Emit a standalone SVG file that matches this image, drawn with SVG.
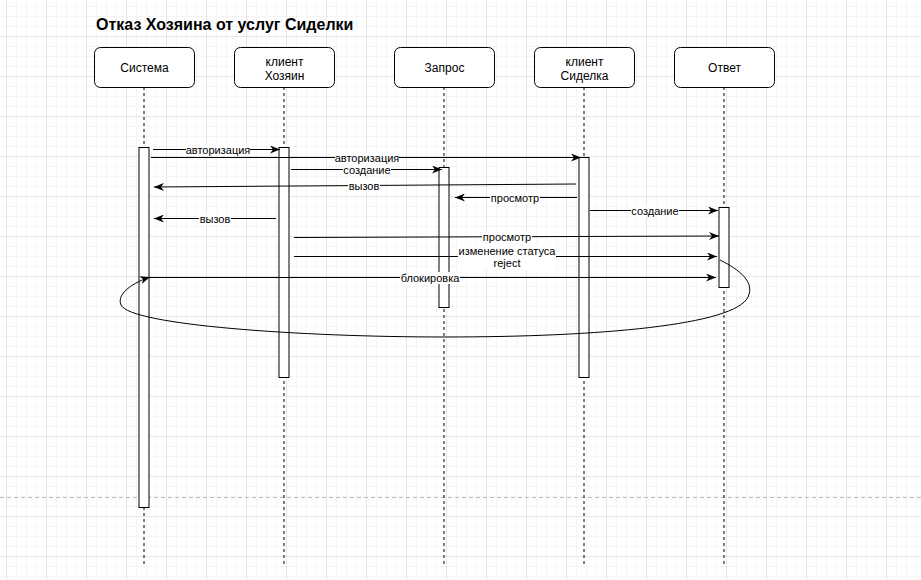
<svg xmlns="http://www.w3.org/2000/svg" width="921" height="580" viewBox="0 0 921 580">
  <defs>
    <pattern id="grid" width="40" height="40" x="6" y="36" patternUnits="userSpaceOnUse">
      <path d="M10.5 0 V40 M20.5 0 V40 M30.5 0 V40 M0 10.5 H40 M0 20.5 H40 M0 30.5 H40" stroke="#f5f5f5" stroke-width="1" fill="none"/>
      <path d="M0.5 0 V40 M0 0.5 H40" stroke="#e6e6e6" stroke-width="1" fill="none"/>
    </pattern>
    <marker id="arrow" markerUnits="userSpaceOnUse" markerWidth="10" markerHeight="8" refX="10" refY="4" orient="auto">
      <path d="M0,0 L10,4 L0,8 L3,4 Z" fill="#000"/>
    </marker>
    <style>
      .box { fill: #fff; stroke: #000; stroke-width: 1; }
      .life { stroke: #000; stroke-width: 1; stroke-dasharray: 3 3; fill: none; }
      .act { fill: #fff; stroke: #000; stroke-width: 1; }
      .hdr { font-family: "Liberation Sans", Arial, sans-serif; font-size: 12px; fill: #000; text-anchor: middle; }
      .msg { stroke: #000; stroke-width: 1; fill: none; marker-end: url(#arrow); }
      .lbl { font-family: "Liberation Sans", Arial, sans-serif; font-size: 11px; fill: #000; text-anchor: middle; }
      .bg { fill: #fff; }
      .title { font-family: "Liberation Sans", Arial, sans-serif; font-size: 16px; font-weight: bold; fill: #000; }
    </style>
  </defs>

  <rect x="0" y="0" width="921" height="580" fill="#fff"/>
  <rect x="0" y="0" width="921" height="580" fill="url(#grid)"/>
  <line x1="0" y1="497.5" x2="921" y2="497.5" stroke="#bdbdbd" stroke-width="1" stroke-dasharray="4 3"/>

  <text id="title" class="title" x="96" y="30">Отказ Хозяина от услуг Сиделки</text>

  <g id="sistema">
    <line class="life" x1="144" y1="87" x2="144" y2="564"/>
    <rect class="box" x="94.5" y="47.5" width="100" height="40" rx="6"/>
    <text class="hdr" x="144.5" y="72">Система</text>
    <rect class="act" x="139" y="147.5" width="10" height="360"/>
  </g>

  <g id="klient-hozyain">
    <line class="life" x1="284" y1="87" x2="284" y2="564"/>
    <rect class="box" x="234.5" y="47.5" width="100" height="40" rx="6"/>
    <text class="hdr" x="284.5" y="66">клиент</text>
    <text class="hdr" x="284.5" y="80">Хозяин</text>
    <rect class="act" x="279" y="147.5" width="10" height="230"/>
  </g>

  <g id="zapros">
    <line class="life" x1="444" y1="87" x2="444" y2="564"/>
    <rect class="box" x="394.5" y="47.5" width="100" height="40" rx="6"/>
    <text class="hdr" x="444.5" y="72">Запрос</text>
    <rect class="act" x="439" y="167.5" width="10" height="140"/>
  </g>

  <g id="klient-sidelka">
    <line class="life" x1="584" y1="87" x2="584" y2="564"/>
    <rect class="box" x="534.5" y="47.5" width="100" height="40" rx="6"/>
    <text class="hdr" x="584.5" y="66">клиент</text>
    <text class="hdr" x="584.5" y="80">Сиделка</text>
    <rect class="act" x="579" y="157.5" width="10" height="220"/>
  </g>

  <g id="otvet">
    <line class="life" x1="724" y1="87" x2="724" y2="564"/>
    <rect class="box" x="674.5" y="47.5" width="100" height="40" rx="6"/>
    <text class="hdr" x="724.5" y="72">Ответ</text>
    <rect class="act" x="719" y="207.5" width="10" height="80"/>
  </g>

  <g id="connectors">
    <line class="msg" x1="153" y1="149.5" x2="280" y2="149.5"/>
    <rect class="bg" x="186" y="144" width="64" height="12"/>
    <text class="lbl" x="218" y="153.5">авторизация</text>

    <line class="msg" x1="151" y1="157.5" x2="581" y2="157.5"/>
    <rect class="bg" x="335" y="152" width="64" height="12"/>
    <text class="lbl" x="367" y="161.5">авторизация</text>

    <line class="msg" x1="291" y1="169.5" x2="442" y2="169.5"/>
    <rect class="bg" x="343" y="164" width="48" height="12"/>
    <text class="lbl" x="367" y="173.5">создание</text>

    <line class="msg" x1="576" y1="184" x2="154" y2="187"/>
    <rect class="bg" x="348" y="180" width="32" height="12"/>
    <text class="lbl" x="364" y="189.5">вызов</text>

    <line class="msg" x1="577" y1="197.5" x2="455" y2="197.5"/>
    <rect class="bg" x="490" y="192" width="50" height="12"/>
    <text class="lbl" x="515" y="201.5">просмотр</text>

    <line class="msg" x1="276" y1="218.5" x2="154" y2="218.5"/>
    <rect class="bg" x="199" y="213" width="32" height="12"/>
    <text class="lbl" x="215" y="222.5">вызов</text>

    <line class="msg" x1="590" y1="210.5" x2="718" y2="210.5"/>
    <rect class="bg" x="631" y="205" width="48" height="12"/>
    <text class="lbl" x="655" y="214.5">создание</text>

    <line class="msg" x1="294" y1="237.5" x2="719" y2="236"/>
    <rect class="bg" x="482" y="231" width="50" height="12"/>
    <text class="lbl" x="507" y="240.5">просмотр</text>

    <line class="msg" x1="294" y1="256.5" x2="717" y2="256.5"/>
    <rect class="bg" x="458" y="244" width="98" height="26"/>
    <text class="lbl" x="507" y="254.5">изменение статуса</text>
    <text class="lbl" x="507" y="267">reject</text>

    <line class="msg" x1="148" y1="277.5" x2="716" y2="277.5"/>
    <rect class="bg" x="400" y="272" width="60" height="12"/>
    <text class="lbl" x="430" y="281.5">блокировка</text>

    <path class="msg" d="M 720 260 C 740 270, 755 282, 748 297 C 735 325, 600 337, 445 337 C 300 337, 130 325, 121 305 C 116 293, 135 282, 150 277"/>
  </g>
</svg>
